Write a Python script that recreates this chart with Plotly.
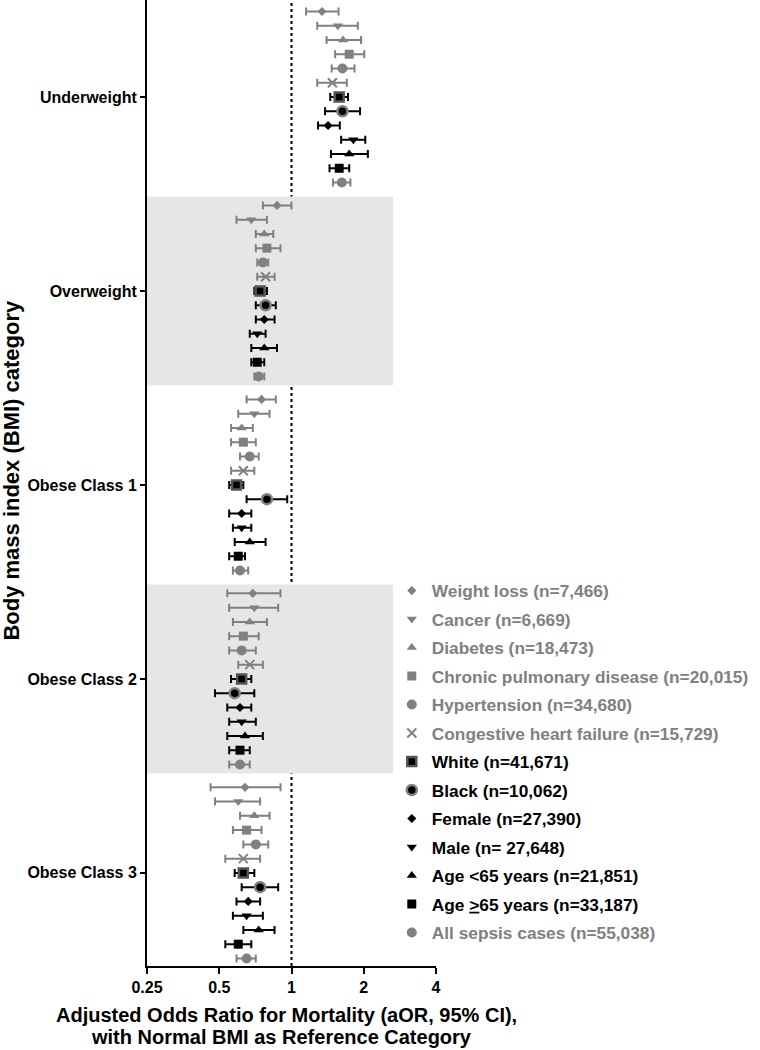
import numpy as np
import plotly.graph_objects as go

groups = ["Underweight", "Overweight", "Obese Class 1", "Obese Class 2", "Obese Class 3"]

series = [
    "Weight loss (n=7,466)",
    "Cancer (n=6,669)",
    "Diabetes (n=18,473)",
    "Chronic pulmonary disease (n=20,015)",
    "Hypertension (n=34,680)",
    "Congestive heart failure (n=15,729)",
    "White (n=41,671)",
    "Black (n=10,062)",
    "Female (n=27,390)",
    "Male (n= 27,648)",
    "Age &lt;65 years (n=21,851)",
    "Age <u>&gt;</u>65 years (n=33,187)",
    "All sepsis cases (n=55,038)",
]

# aOR and 95% CI per BMI group, series order as above
underweight_or = [1.34, 1.56, 1.64, 1.74, 1.63, 1.48, 1.58, 1.63, 1.42, 1.81, 1.74, 1.58, 1.62]
underweight_lo = [1.15, 1.28, 1.40, 1.52, 1.47, 1.28, 1.45, 1.38, 1.29, 1.61, 1.46, 1.44, 1.49]
underweight_hi = [1.57, 1.89, 1.95, 2.01, 1.83, 1.70, 1.72, 1.93, 1.59, 2.03, 2.08, 1.74, 1.76]

overweight_or = [0.87, 0.68, 0.77, 0.79, 0.76, 0.78, 0.74, 0.78, 0.77, 0.72, 0.77, 0.72, 0.73]
overweight_lo = [0.76, 0.59, 0.71, 0.71, 0.72, 0.72, 0.70, 0.71, 0.71, 0.67, 0.68, 0.68, 0.70]
overweight_hi = [1.00, 0.79, 0.84, 0.90, 0.80, 0.85, 0.79, 0.86, 0.85, 0.78, 0.87, 0.77, 0.77]

obese1_or = [0.75, 0.70, 0.62, 0.63, 0.67, 0.63, 0.59, 0.79, 0.62, 0.62, 0.67, 0.60, 0.61]
obese1_lo = [0.65, 0.60, 0.56, 0.56, 0.61, 0.56, 0.55, 0.65, 0.55, 0.57, 0.58, 0.55, 0.57]
obese1_hi = [0.86, 0.81, 0.69, 0.71, 0.73, 0.70, 0.63, 0.96, 0.68, 0.68, 0.78, 0.64, 0.66]

obese2_or = [0.69, 0.70, 0.67, 0.63, 0.62, 0.67, 0.62, 0.58, 0.61, 0.62, 0.64, 0.61, 0.61]
obese2_lo = [0.54, 0.55, 0.57, 0.55, 0.55, 0.60, 0.56, 0.48, 0.54, 0.55, 0.54, 0.55, 0.55]
obese2_hi = [0.90, 0.88, 0.79, 0.73, 0.71, 0.76, 0.68, 0.70, 0.68, 0.71, 0.76, 0.67, 0.67]

obese3_or = [0.64, 0.60, 0.70, 0.65, 0.71, 0.63, 0.63, 0.74, 0.66, 0.65, 0.73, 0.60, 0.65]
obese3_lo = [0.46, 0.48, 0.61, 0.57, 0.63, 0.53, 0.58, 0.62, 0.59, 0.57, 0.63, 0.53, 0.59]
obese3_hi = [0.90, 0.74, 0.81, 0.75, 0.80, 0.74, 0.70, 0.88, 0.74, 0.76, 0.85, 0.68, 0.71]

x_ticks = [0.25, 0.5, 1, 2, 4]
x_ticklabels = ["0.25", "0.5", "1", "2", "4"]

aor = np.array([underweight_or, overweight_or, obese1_or, obese2_or, obese3_or])
lo = np.array([underweight_lo, overweight_lo, obese1_lo, obese2_lo, obese3_lo])
hi = np.array([underweight_hi, overweight_hi, obese1_hi, obese2_hi, obese3_hi])

GREY = "#808080"
BLACK = "#000000"
# symbol, size, fill colour, outline colour, outline width
styles = [
    ("diamond", 7, GREY, GREY, 0),
    ("triangle-down", 9, GREY, GREY, 0),
    ("triangle-up", 9, GREY, GREY, 0),
    ("square", 9, GREY, GREY, 0),
    ("circle", 10, GREY, GREY, 0),
    ("x-thin", 9, GREY, GREY, 2),
    ("square", 9, BLACK, "#555555", 2.5),
    ("circle", 10, BLACK, GREY, 2.5),
    ("diamond", 7, BLACK, BLACK, 0),
    ("triangle-down", 9, BLACK, BLACK, 0),
    ("triangle-up", 9, BLACK, BLACK, 0),
    ("square", 9, BLACK, BLACK, 0),
    ("circle", 10, GREY, GREY, 0),
]
text_colors = [GREY] * 6 + [BLACK] * 6 + [GREY]
bar_colors = [GREY] * 6 + [BLACK] * 6 + [GREY]

n = len(series)
row_step = 0.0735
group_pos = np.arange(len(groups))

fig = go.Figure()

for k in range(n):
    sym, size, fill, edge, lw = styles[k]
    y = group_pos + (k - (n - 1) / 2) * row_step
    fig.add_trace(go.Scatter(
        x=aor[:, k],
        y=y,
        mode="markers",
        name=f"<span style='color:{text_colors[k]}'>{series[k]}</span>",
        legendgroup=str(k),
        marker=dict(symbol=sym, size=size, color=fill, line=dict(color=edge, width=lw)),
        error_x=dict(
            type="data",
            symmetric=False,
            array=hi[:, k] - aor[:, k],
            arrayminus=aor[:, k] - lo[:, k],
            color=bar_colors[k],
            thickness=2,
            width=4,
        ),
    ))

# reference line at aOR = 1 (drawn first so the bands sit on top of it)
fig.add_vline(x=1, line=dict(color="black", width=2, dash="dot"), layer="below")

for g in [1, 3]:
    fig.add_shape(
        type="rect", xref="x domain", yref="y",
        x0=0, x1=0.851, y0=g - 0.487, y1=g + 0.487,
        fillcolor="#e6e6e6", line_width=0, layer="below",
    )

fig.update_xaxes(
    type="log",
    range=[np.log10(0.25), np.log10(4)],
    tickvals=x_ticks,
    ticktext=x_ticklabels,
    showline=True, linecolor="black", linewidth=2,
    ticks="outside", ticklen=6, tickwidth=2, tickcolor="black",
    showgrid=False, zeroline=False,
    tickfont=dict(size=16, color="black"),
)
fig.update_yaxes(
    range=[4.48, -0.5],
    tickvals=list(group_pos),
    ticktext=groups,
    showline=True, linecolor="black", linewidth=2,
    ticks="outside", ticklen=5, tickwidth=2, tickcolor="black",
    showgrid=False, zeroline=False,
    tickfont=dict(size=16, color="black"),
)

# x title as two lines, set tighter than plotly's default line spacing
fig.add_annotation(
    text="Adjusted Odds Ratio for Mortality (aOR, 95% CI),",
    xref="paper", yref="paper", x=0.481, y=-0.0507,
    xanchor="center", yanchor="middle", showarrow=False,
    font=dict(size=20, color="black"),
)
fig.add_annotation(
    text="with Normal BMI as Reference Category",
    xref="paper", yref="paper", x=0.467, y=-0.0735,
    xanchor="center", yanchor="middle", showarrow=False,
    font=dict(size=20, color="black"),
)
fig.add_annotation(
    text="Body mass index (BMI) category",
    xref="paper", yref="paper", x=-0.47, y=0.513,
    xanchor="center", yanchor="middle", textangle=-90, showarrow=False,
    font=dict(size=22, color="black"),
)

fig.update_layout(
    width=760, height=1050,
    margin=dict(l=147, r=324, t=0, b=84),
    plot_bgcolor="white", paper_bgcolor="white",
    font=dict(family="Liberation Sans, Arial, sans-serif", weight="bold", color="black"),
    legend=dict(
        x=0.847, y=0.407, xanchor="left", yanchor="top",
        font=dict(size=17.3),
        traceorder="grouped", tracegroupgap=3,
        bgcolor="rgba(0,0,0,0)",
    ),
)

fig.write_html(
    "out.html",
    config={"displayModeBar": False},
    post_script="document.body.style.margin='0';",
)
